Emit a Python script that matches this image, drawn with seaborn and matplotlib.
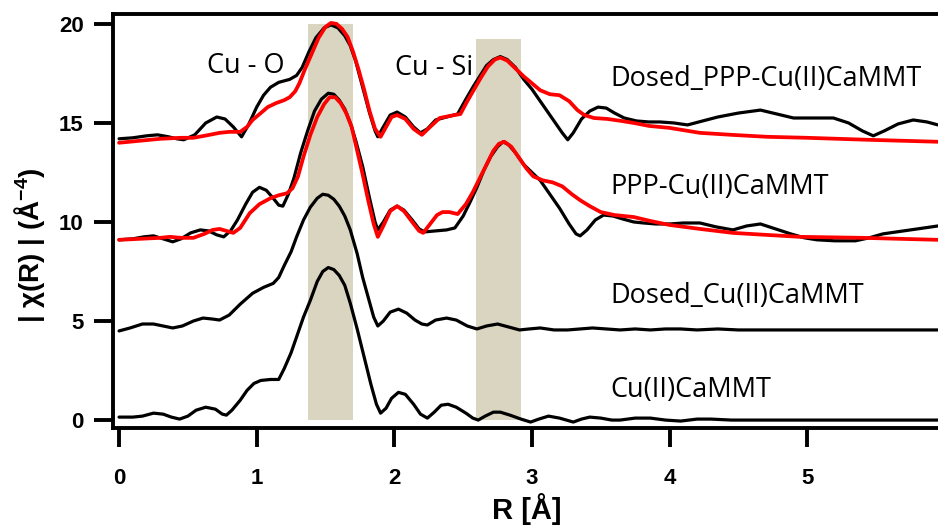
import matplotlib
matplotlib.use('Agg')
import matplotlib.pyplot as plt
import seaborn as sns
import pandas as pd

# Cu(II)CaMMT (black, bottom)
cu_x = [0.0, 0.1, 0.17, 0.25, 0.32, 0.38, 0.44, 0.5, 0.56, 0.63, 0.7, 0.75, 0.78, 0.82, 0.88,
        0.93, 0.98, 1.03, 1.1, 1.16, 1.2, 1.25, 1.29, 1.34, 1.39, 1.44, 1.48, 1.52, 1.56, 1.6,
        1.64, 1.68, 1.73, 1.78, 1.83, 1.87, 1.9, 1.94, 1.98, 2.03, 2.08, 2.14, 2.19, 2.24, 2.29,
        2.34, 2.39, 2.45, 2.52, 2.57, 2.61, 2.66, 2.72, 2.77, 2.84, 2.92, 2.99, 3.05, 3.12, 3.2,
        3.3, 3.36, 3.42, 3.5, 3.58, 3.64, 3.75, 3.86, 3.97, 4.08, 4.2, 4.3, 4.45, 4.61, 5.95]
cu_y = [0.15, 0.15, 0.2, 0.35, 0.3, 0.15, 0.05, 0.2, 0.5, 0.65, 0.55, 0.3, 0.25, 0.5, 1.0,
        1.5, 1.85, 2.0, 2.05, 2.05, 2.6, 3.4, 4.2, 5.2, 6.05, 7.0, 7.5, 7.7, 7.6, 7.3,
        6.8, 5.9, 4.6, 3.2, 1.8, 0.8, 0.35, 0.6, 1.1, 1.4, 1.3, 0.8, 0.3, 0.1, 0.4,
        0.75, 0.8, 0.65, 0.35, 0.1, 0.0, 0.2, 0.4, 0.4, 0.25, 0.05, -0.1, 0.05, 0.2, 0.1,
        -0.1, 0.05, 0.15, 0.1, 0.0, 0.0, 0.1, 0.1, 0.0, -0.05, 0.05, 0.05, 0.0, 0.0, 0.0]

# Dosed_Cu(II)CaMMT (black)
dcu_x = [0.0, 0.08, 0.17, 0.25, 0.32, 0.39, 0.46, 0.54, 0.61, 0.68, 0.73, 0.8, 0.88, 0.97,
         1.05, 1.12, 1.16, 1.2, 1.25, 1.29, 1.34, 1.39, 1.44, 1.48, 1.52, 1.56, 1.6, 1.64,
         1.68, 1.73, 1.77, 1.81, 1.85, 1.88, 1.92, 1.97, 2.03, 2.09, 2.15, 2.2, 2.24, 2.3,
         2.38, 2.45, 2.53, 2.6, 2.67, 2.75, 2.83, 2.91, 2.98, 3.06, 3.16, 3.26, 3.35, 3.44,
         3.54, 3.64, 3.75, 3.86, 3.97, 4.08, 4.2, 4.35, 4.5, 4.61, 5.95]
dcu_y = [4.5, 4.65, 4.85, 4.85, 4.75, 4.65, 4.75, 5.0, 5.15, 5.1, 5.05, 5.3, 5.85, 6.4,
         6.7, 6.9, 7.2, 7.8, 8.5, 9.25, 10.1, 10.75, 11.2, 11.4, 11.35, 11.15, 10.8, 10.3,
         9.6, 8.4, 7.2, 6.2, 5.2, 4.75, 5.0, 5.45, 5.6, 5.4, 5.05, 4.85, 4.8, 5.05,
         5.15, 5.05, 4.75, 4.6, 4.75, 4.85, 4.7, 4.55, 4.6, 4.65, 4.55, 4.55, 4.6, 4.65,
         4.6, 4.55, 4.6, 4.55, 4.6, 4.6, 4.55, 4.6, 4.55, 4.55, 4.55]

# PPP-Cu(II)CaMMT (black data)
ppp_x = [0.0, 0.1, 0.18, 0.25, 0.32, 0.39, 0.45, 0.52, 0.59, 0.65, 0.71, 0.76, 0.81, 0.86,
         0.92, 0.97, 1.02, 1.07, 1.12, 1.16, 1.19, 1.23, 1.27, 1.32, 1.37, 1.42, 1.47, 1.52,
         1.56, 1.6, 1.64, 1.68, 1.72, 1.77, 1.82, 1.86, 1.88, 1.92, 1.97, 2.02, 2.07, 2.13,
         2.18, 2.22, 2.3, 2.38, 2.44, 2.5, 2.55, 2.6, 2.65, 2.7, 2.75, 2.79, 2.83, 2.88, 2.94,
         3.0, 3.06, 3.13, 3.2, 3.27, 3.32, 3.35, 3.4, 3.46, 3.52, 3.59, 3.66, 3.74, 3.81, 3.9,
         4.0, 4.1, 4.22, 4.34, 4.46, 4.56, 4.66, 4.77, 4.88, 4.98, 5.07, 5.2, 5.35, 5.45, 5.55,
         5.7, 5.85, 5.95]
ppp_y = [9.1, 9.15, 9.25, 9.3, 9.15, 9.0, 9.15, 9.45, 9.6, 9.55, 9.35, 9.25, 9.55, 10.1,
         10.9, 11.5, 11.75, 11.6, 11.2, 10.85, 10.8, 11.4, 12.2, 13.5, 14.6, 15.6, 16.2, 16.5,
         16.45, 16.15, 15.7, 15.0, 14.1, 12.8, 11.2, 10.0, 9.6, 10.0, 10.6, 10.8, 10.6, 10.1,
         9.65, 9.5, 9.55, 9.6, 9.7, 10.3, 11.0, 11.75, 12.6, 13.3, 13.8, 14.05, 13.9, 13.5, 12.9,
         12.5, 12.1, 11.4, 10.7, 9.9, 9.4, 9.3, 9.6, 10.1, 10.35, 10.3, 10.15, 10.0, 9.95, 9.9,
         9.9, 9.95, 9.95, 9.75, 9.6, 9.8, 9.9, 9.65, 9.4, 9.2, 9.1, 9.05, 9.05, 9.2, 9.4,
         9.55, 9.7, 9.8]

# PPP-Cu(II)CaMMT (red fit)
ppp_fit_x = [0.0, 0.15, 0.3, 0.37, 0.45, 0.54, 0.62, 0.68, 0.73, 0.78, 0.83, 0.88, 0.95, 1.02,
             1.1, 1.16, 1.22, 1.26, 1.3, 1.34, 1.39, 1.44, 1.49, 1.53, 1.57, 1.61, 1.65, 1.69,
             1.73, 1.77, 1.81, 1.85, 1.88, 1.92, 1.97, 2.02, 2.07, 2.13, 2.18, 2.21, 2.26, 2.31,
             2.35, 2.4, 2.46, 2.52, 2.57, 2.62, 2.67, 2.72, 2.76, 2.8, 2.85, 2.9, 2.96, 3.01,
             3.08, 3.15, 3.22, 3.29, 3.35, 3.42, 3.5, 3.6, 3.74, 3.86, 4.0, 4.22, 4.46, 4.7,
             4.95, 5.4, 5.95]
ppp_fit_y = [9.1, 9.15, 9.2, 9.25, 9.2, 9.2, 9.4, 9.6, 9.65, 9.55, 9.45, 9.7, 10.45, 10.9,
             11.2, 11.35, 11.45, 11.7, 12.3, 13.3, 14.4, 15.3, 15.95, 16.3, 16.3, 16.0, 15.5, 14.8,
             13.6, 12.4, 11.1, 9.9, 9.25, 9.8, 10.55, 10.8, 10.55, 10.0, 9.55, 9.45, 9.9, 10.35,
             10.5, 10.5, 10.4, 10.9, 11.5, 12.2, 12.9, 13.6, 13.95, 14.05, 13.8, 13.3, 12.7, 12.3,
             12.1, 12.0, 11.8, 11.4, 11.1, 10.8, 10.5, 10.35, 10.25, 10.05, 9.85, 9.65, 9.45, 9.35,
             9.25, 9.2, 9.1]

# Dosed_PPP-Cu(II)CaMMT (black data)
dppp_x = [0.0, 0.1, 0.2, 0.28, 0.36, 0.42, 0.47, 0.55, 0.63, 0.71, 0.77, 0.83, 0.89, 0.94,
          1.0, 1.05, 1.1, 1.16, 1.24, 1.29, 1.33, 1.38, 1.43, 1.49, 1.54, 1.59, 1.64, 1.68,
          1.72, 1.77, 1.82, 1.86, 1.88, 1.92, 1.97, 2.02, 2.08, 2.14, 2.19, 2.24, 2.3, 2.38,
          2.46, 2.52, 2.57, 2.62, 2.67, 2.72, 2.77, 2.82, 2.88, 2.94, 3.0, 3.06, 3.11, 3.17,
          3.22, 3.26, 3.3, 3.36, 3.42, 3.48, 3.54, 3.6, 3.67, 3.76, 3.85, 3.93, 4.03, 4.13,
          4.24, 4.35, 4.5, 4.66, 4.78, 4.9, 5.05, 5.19, 5.3, 5.4, 5.48, 5.56, 5.66, 5.77,
          5.87, 5.95]
dppp_y = [14.2, 14.25, 14.35, 14.4, 14.3, 14.2, 14.15, 14.4, 15.0, 15.3, 15.2, 14.8, 14.3, 14.9,
          15.8, 16.4, 16.8, 17.05, 17.2, 17.4, 17.8, 18.6, 19.3, 19.8, 19.95, 19.8, 19.4, 18.9,
          18.1, 16.8, 15.5, 14.6, 14.3, 14.8, 15.4, 15.55, 15.3, 14.8, 14.5, 14.7, 15.15, 15.3,
          15.45, 16.2, 16.8, 17.35, 17.9, 18.2, 18.35, 18.2, 17.8, 17.2, 16.7, 16.1, 15.6, 15.0,
          14.5, 14.15, 14.5, 15.2, 15.6, 15.8, 15.75, 15.5, 15.25, 15.1, 15.05, 15.05, 15.0, 14.9,
          15.1, 15.3, 15.5, 15.65, 15.45, 15.25, 15.25, 15.25, 15.0, 14.6, 14.35, 14.6, 14.95, 15.15,
          15.05, 14.9]

# Dosed_PPP-Cu(II)CaMMT (red fit)
dppp_fit_x = [0.0, 0.15, 0.3, 0.45, 0.54, 0.62, 0.73, 0.8, 0.88, 0.93, 0.97, 1.03, 1.08, 1.14,
              1.2, 1.24, 1.28, 1.31, 1.35, 1.4, 1.45, 1.5, 1.54, 1.58, 1.62, 1.66, 1.7, 1.74,
              1.78, 1.82, 1.86, 1.9, 1.94, 1.98, 2.02, 2.08, 2.14, 2.2, 2.26, 2.33, 2.4, 2.48,
              2.53, 2.58, 2.63, 2.68, 2.73, 2.77, 2.82, 2.88, 2.94, 3.0, 3.06, 3.13, 3.2, 3.27,
              3.33, 3.38, 3.45, 3.55, 3.65, 3.74, 3.85, 4.0, 4.22, 4.45, 4.71, 5.0, 5.44, 5.95]
dppp_fit_y = [14.0, 14.1, 14.2, 14.25, 14.25, 14.35, 14.5, 14.55, 14.55, 14.8, 15.15, 15.5, 15.8, 16.0,
              16.15, 16.3, 16.6, 17.0, 17.7, 18.5, 19.3, 19.85, 20.05, 20.0, 19.75, 19.35, 18.6, 17.7,
              16.7, 15.6, 14.7, 14.3, 14.8, 15.3, 15.4, 15.2, 14.7, 14.4, 14.8, 15.25, 15.35, 15.45,
              16.1, 16.7, 17.3, 17.85, 18.2, 18.3, 18.15, 17.75, 17.35, 17.0, 16.65, 16.45, 16.4, 16.1,
              15.65, 15.4, 15.25, 15.2, 15.1, 15.0, 14.85, 14.75, 14.5, 14.4, 14.3, 14.25, 14.15, 14.05]

# shaded regions
band_names = ['Cu - O', 'Cu - Si']
band_left = [1.374, 2.594]
band_right = [1.70, 2.92]
band_top = [20.0, 19.24]

sample_names = ['Dosed_PPP-Cu(II)CaMMT', 'PPP-Cu(II)CaMMT', 'Dosed_Cu(II)CaMMT', 'Cu(II)CaMMT']

x_ticks = [0, 1, 2, 3, 4, 5]
y_ticks = [0, 5, 10, 15, 20]

sns.set_style('white')
plt.rcParams['font.family'] = ['Liberation Sans', 'DejaVu Sans']
plt.rcParams['mathtext.default'] = 'regular'
for k in ['text.color', 'axes.labelcolor', 'xtick.color', 'ytick.color']:
    plt.rcParams[k] = 'black'

fig = plt.figure(figsize=(9.38, 5.29), dpi=100)
ax = fig.add_axes([113 / 938, 101 / 529, 825 / 938, 414 / 529])

for l, r, t in zip(band_left, band_right, band_top):
    ax.fill_between([l, r], 0, t, color='#d9d5c1', lw=0, zorder=0)

curves = [
    (cu_x, cu_y, 'black', 2.3),
    (dcu_x, dcu_y, 'black', 2.3),
    (ppp_x, ppp_y, 'black', 2.3),
    (dppp_x, dppp_y, 'black', 2.3),
    (ppp_fit_x, ppp_fit_y, '#ff0000', 2.7),
    (dppp_fit_x, dppp_fit_y, '#ff0000', 2.7),
]
for xs, ys, c, lw in curves:
    df = pd.DataFrame({'R': xs, 'chi': ys})
    sns.lineplot(data=df, x='R', y='chi', color=c, lw=lw, sort=False,
                 estimator=None, ax=ax, solid_joinstyle='round', solid_capstyle='round')

ax.set_xlim(-0.044, 5.95)
ax.set_ylim(-0.4, 20.5)
ax.set_xticks(x_ticks)
ax.set_xticklabels([str(t) for t in x_ticks], fontsize=16, fontweight='bold')
ax.set_yticks(y_ticks)
ax.set_yticklabels([str(t) for t in y_ticks], fontsize=16, fontweight='bold')
ax.tick_params(axis='both', direction='out', length=14, width=2.8,
               color='black', labelcolor='black', bottom=True, left=True)
ax.tick_params(axis='x', pad=15)
ax.tick_params(axis='y', pad=7)

for s in ['left', 'bottom', 'top']:
    ax.spines[s].set_linewidth(2.8)
    ax.spines[s].set_color('black')
ax.spines['right'].set_visible(False)

ax.set_xlabel('R [Å]', fontsize=21, fontweight='bold')
ax.xaxis.set_label_coords((527 - 113) / 825, (428 - 493) / 414)
ax.set_ylabel('| χ(R) | (Å$^{-4}$)', fontsize=20, fontweight='bold',
              family=['Liberation Sans Narrow', 'Liberation Sans'])
ax.yaxis.set_label_coords((47 - 113) / 825, (428 - 245) / 414)

lab_font = ['Open Sans', 'DejaVu Sans']
ax.text(0.64, 17.53, band_names[0], fontsize=19.5, family=lab_font, ha='left', va='baseline')
ax.text(2.006, 17.42, band_names[1], fontsize=19.5, family=lab_font, ha='left', va='baseline')
for name, yb in zip(sample_names, [16.87, 11.41, 5.91, 1.16]):
    ax.text(3.57, yb, name, fontsize=19.5, family=lab_font, ha='left', va='baseline')

fig.savefig('out.png', dpi=100)
